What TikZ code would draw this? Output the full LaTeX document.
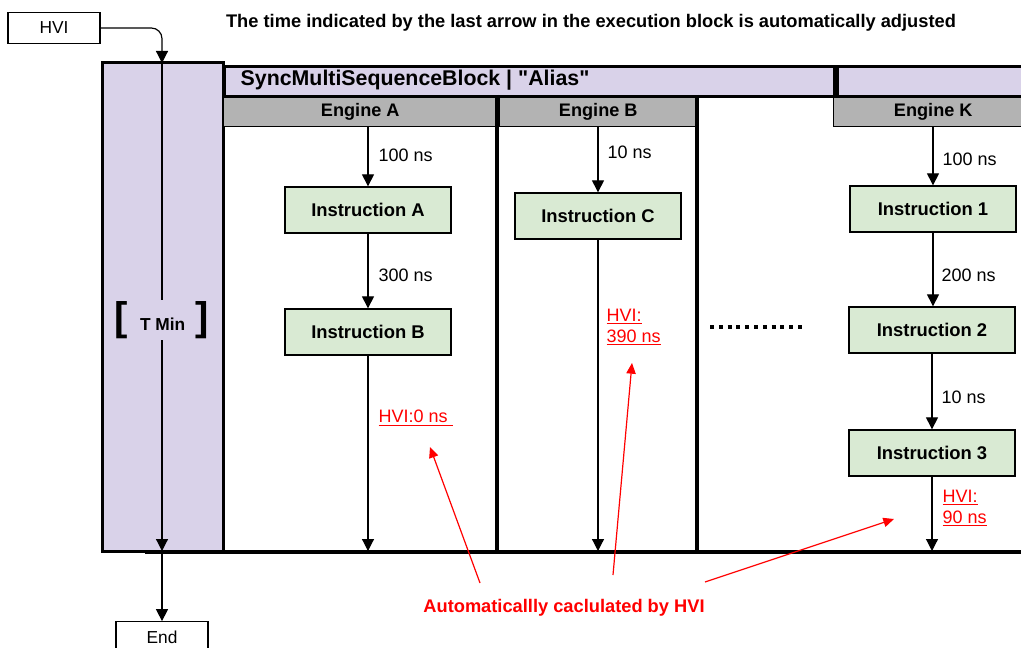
\documentclass[tikz,border=0pt]{standalone}
\usepackage{fontspec}
\setmainfont{Liberation Sans}
\usetikzlibrary{arrows.meta, positioning}
\definecolor{lav}{HTML}{D9D2E9}
\definecolor{engray}{HTML}{B3B3B3}
\definecolor{insgreen}{HTML}{D9EAD3}
\tikzset{
  io/.style={draw, thick, minimum width=69pt, minimum height=23pt, inner sep=0pt, font=\fontsize{13}{15}\selectfont},
  instr/.style={draw, line width=1.5pt, fill=insgreen, minimum width=125pt, minimum height=34pt, inner sep=0pt, font=\fontsize{13.8}{16}\selectfont\bfseries},
  engine/.style={draw, fill=engray, minimum height=21.75pt, inner sep=0pt, anchor=north west, font=\fontsize{13.6}{16}\selectfont\bfseries},
  tlab/.style={anchor=west, font=\fontsize{13.5}{16}\selectfont},
  hvilab/.style={anchor=west, text=red, align=left, font=\fontsize{13.5}{16}\selectfont},
  conn/.style={->, line width=0.9pt},
  redconn/.style={-{Triangle[length=8pt,width=7pt]}, red, line width=0.9pt},
}
\begin{document}
\begin{tikzpicture}[x=0.75pt, y=-0.75pt, >={Triangle[length=9pt,width=9pt]}]
    \clip (0,0) rectangle (1021,648);
    \fill[white] (0,0) rectangle (1021,648);

    % left column and title
    \node (hvi) [io] at (54,28) {HVI};
    \node (title) [font=\fontsize{13.7}{16}\selectfont\bfseries] at (591,23) {The time indicated by the last arrow in the execution block is automatically adjusted};
    \node (tcol) [draw, line width=2.25pt, fill=lav, minimum width=90.75pt, minimum height=366pt, inner sep=0pt] at (162.5,307) {};
    \coordinate (ttop) at (162,63);
    \coordinate (tbot) at (162,551);
    \draw [conn, rounded corners=8pt] (hvi.east) -- (ttop |- hvi.east) -- (ttop);
    \draw [conn] (ttop) -- (tbot);
    \node (tmin) [fill=lav, inner sep=1pt] at (162,320) {{\fontsize{30}{30}\selectfont\bfseries[}\hspace{9pt}{\fontsize{13}{15}\selectfont\bfseries T Min}\hspace{8pt}{\fontsize{30}{30}\selectfont\bfseries]}};
    \node (end) [io] at (162,637) {End};
    \draw [conn] (tbot) -- (end);

    % block header
    \node (hdr) [draw, line width=2.25pt, fill=lav, minimum width=457.5pt, minimum height=22.5pt, inner sep=0pt, anchor=north west] at (223,65) {};
    \node (hdrtxt) [anchor=west, font=\fontsize{16}{18}\selectfont\bfseries] at (236,80) {SyncMultiSequenceBlock | \textquotedbl Alias\textquotedbl};
    \node (hdrK) [draw, line width=2.25pt, fill=lav, minimum width=150pt, minimum height=22.5pt, inner sep=0pt, anchor=north west] at (836,65) {};

    \node (engA) [engine, minimum width=205.5pt] at (223,97) {Engine A};
    \node (engB) [engine, minimum width=148.5pt] at (499,97) {Engine B};
    \node (engK) [engine, minimum width=150pt] at (833,97) {Engine K};

    \draw [line width=3pt] (497,95) -- (497,552);
    \draw [line width=3pt] (697,95) -- (697,552);
    \draw [line width=2.5pt] (145,552) -- (1030,552);

    % engine A
    \node (insA) [instr] at (368,210) {Instruction A};
    \node (insB) [instr] at (368,332) {Instruction B};
    \coordinate (botA) at (368,551);
    \draw [conn] (insA.north |- engA.south) -- (insA);
    \draw [conn] (insA) -- (insB);
    \draw [conn] (insB) -- (botA);
    \node (tA1) [tlab] at (374,155) {100 ns};
    \node (tA2) [tlab] at (374,275) {300 ns};
    \node (hviA) [hvilab] at (374,418) {\underline{HVI:0 ns\ }};

    % engine B
    \node (insC) [instr] at (598,216) {Instruction C};
    \coordinate (botB) at (598,551);
    \draw [conn] (insC.north |- engB.south) -- (insC);
    \draw [conn] (insC) -- (botB);
    \node (tB1) [tlab] at (603,152) {10 ns};
    \node (hviB) [hvilab] at (602,327) {\underline{HVI:}\\\underline{390 ns}};

    \draw [line width=3pt, dash pattern=on 3pt off 3.6pt] (710,327) -- (803,327);

    % engine K
    \node (ins1) [instr] at (933,209) {Instruction 1};
    \node (ins2) [instr] at (932,330) {Instruction 2};
    \node (ins3) [instr] at (932,453) {Instruction 3};
    \coordinate (botK) at (932,551);
    \draw [conn] (ins1.north |- engK.south) -- (ins1);
    \draw [conn] (ins1) -- (ins1 |- ins2.north);
    \draw [conn] (ins2) -- (ins3);
    \draw [conn] (ins3) -- (botK);
    \node (tK1) [tlab] at (938,159) {100 ns};
    \node (tK2) [tlab] at (937,275) {200 ns};
    \node (tK3) [tlab] at (937,397) {10 ns};
    \node (hviK) [hvilab] at (938,508) {\underline{HVI:}\\\underline{90 ns}};

    % note
    \node (auto) [text=red, font=\fontsize{13.7}{16}\selectfont\bfseries] at (564,608) {Automaticallly caclulated by HVI};
    \coordinate (pA) at (430,447);
    \coordinate (pB) at (632,363);
    \coordinate (pK) at (894,519);
    \draw [redconn] (480,583) -- (pA);
    \draw [redconn] (613,575) -- (pB);
    \draw [redconn] (705,582) -- (pK);
\end{tikzpicture}
\end{document}
